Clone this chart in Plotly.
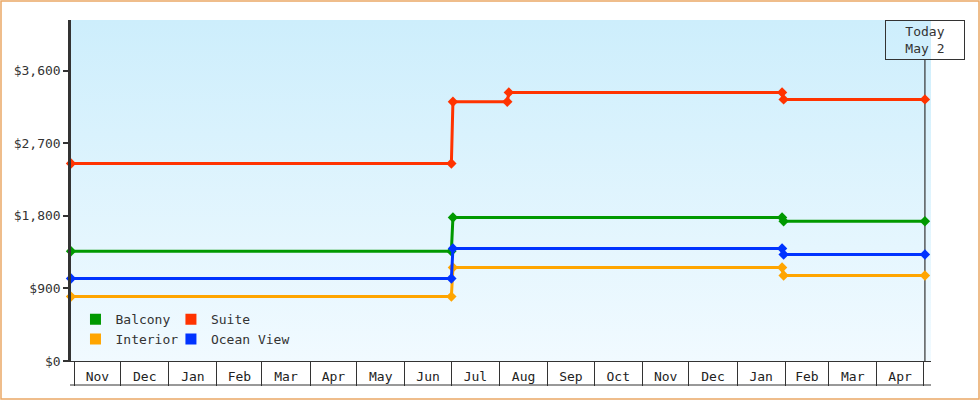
import base64
import plotly.graph_objects as go

# ---------------- data ----------------
dates = ["2023-10-30", "2024-07-01", "2024-07-02", "2025-01-30", "2025-01-31", "2025-05-02"]
suite_dates = ["2023-10-30", "2024-07-01", "2024-07-02", "2024-08-06", "2024-08-07",
               "2025-01-30", "2025-01-31", "2025-05-02"]

balcony = [1362, 1362, 1780, 1780, 1734, 1734]
suite = [2450, 2450, 3215, 3215, 3332, 3332, 3245, 3245]
interior = [799, 799, 1159, 1159, 1060, 1060]
ocean_view = [1023, 1023, 1395, 1395, 1321, 1321]

today = "2025-05-02"
today_label = "Today<br>May 2"
x_range = ["2023-10-30", "2025-05-05 22:00"]
y_range = [0, 4230]
y_ticks = [0, 900, 1800, 2700, 3600]

FONT = "DejaVu Sans Mono"
INK = "#333333"

series = [
    ("Balcony", dates, balcony, "#009900", "legend"),
    ("Suite", suite_dates, suite, "#ff3300", "legend2"),
    ("Interior", dates, interior, "#ffa500", "legend"),
    ("Ocean View", dates, ocean_view, "#0033ff", "legend2"),
]

fig = go.Figure()
for name, xs, ys, col, leg in series:
    fig.add_trace(go.Scatter(x=xs, y=ys, mode="lines+markers", name=name,
                             line=dict(color=col, width=3),
                             marker=dict(symbol="diamond", size=8, color=col),
                             cliponaxis=False, showlegend=False, legendgroup=name))
    # square swatch for the legend
    fig.add_trace(go.Scatter(x=[None], y=[None], mode="markers", name=name,
                             marker=dict(symbol="square", size=11, color=col),
                             legend=leg, legendgroup=name))

# gradient plot background
svg = ('<svg xmlns="http://www.w3.org/2000/svg" width="10" height="100" preserveAspectRatio="none">'
       '<defs><linearGradient id="g" x1="0" y1="0" x2="0" y2="1">'
       '<stop offset="0" stop-color="#cdeefc"/><stop offset="1" stop-color="#f1faff"/>'
       '</linearGradient></defs><rect width="10" height="100" fill="url(#g)"/></svg>')
bg = "data:image/svg+xml;base64," + base64.b64encode(svg.encode()).decode()

W, H = 980, 400
L, R, T, B = 71, 49, 20, 39
pw, ph = W - L - R, H - T - B

fig.update_layout(
    width=W, height=H,
    margin=dict(l=L, r=R, t=T, b=B),
    paper_bgcolor="white",
    plot_bgcolor="rgba(0,0,0,0)",
    font=dict(family=FONT, size=13, color=INK),
    images=[dict(source=bg, xref="paper", yref="paper", x=0, y=1, sizex=1, sizey=1,
                 xanchor="left", yanchor="top", sizing="stretch", layer="below")],
    legend=dict(x=0.018, y=0.02, xanchor="left", yanchor="bottom", bgcolor="rgba(0,0,0,0)",
                font=dict(size=13, color=INK), tracegroupgap=0, itemwidth=30, indentation=-11),
    legend2=dict(x=0.129, y=0.02, xanchor="left", yanchor="bottom", bgcolor="rgba(0,0,0,0)",
                 font=dict(size=13, color=INK), tracegroupgap=0, itemwidth=30, indentation=-11),
    hovermode="closest",
)

fig.update_xaxes(
    type="date", range=x_range, showgrid=False, zeroline=False,
    showline=True, linecolor=INK, linewidth=1,
    ticklabelmode="period", dtick="M1", tick0="2023-11-01", tickformat="%b",
    ticks="outside", ticklen=24, tickcolor=INK, tickwidth=1,
    ticklabelstandoff=-21,
    tickfont=dict(family=FONT, size=13, color="#222222"),
)
fig.update_yaxes(
    range=y_range, tickvals=y_ticks, tickformat="$,d",
    showgrid=False, zeroline=False,
    showline=True, linecolor=INK, linewidth=2.5,
    ticks="outside", ticklen=5, tickwidth=2, tickcolor=INK,
    tickfont=dict(family=FONT, size=13, color=INK),
)

# bottom rule under the month cells, today marker, outer frame
fig.add_shape(type="line", xref="paper", yref="paper", x0=-1 / pw, x1=1, y0=-24 / ph, y1=-24 / ph,
              line=dict(color=INK, width=1))
fig.add_shape(type="line", xref="x", yref="paper", x0=today, x1=today, y0=0, y1=1 - 40 / ph,
              line=dict(color=INK, width=1.2), layer="below")
fig.add_shape(type="rect", xref="paper", yref="paper",
              x0=(1 - L) / pw, x1=1 + (R - 1) / pw, y0=(1 - B) / ph, y1=1 + (T - 1) / ph,
              line=dict(color="#eaa866", width=1.5))
fig.add_annotation(x=today, xref="x", y=1, yref="paper", yanchor="top", xanchor="center",
                   text=today_label, showarrow=False, align="center",
                   bordercolor=INK, borderwidth=1, borderpad=1, width=76, height=36,
                   font=dict(family=FONT, size=13, color=INK))

fig.write_html("out.html", config={"displayModeBar": False},
               post_script="document.body.style.margin='0';")
